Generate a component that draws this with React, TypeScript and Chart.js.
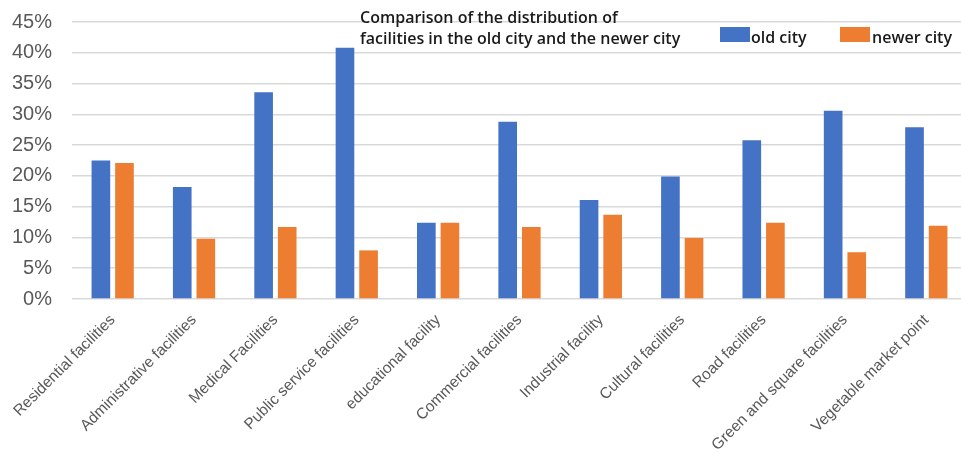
import React, { useEffect, useRef } from "react";
import { Chart, registerables } from "chart.js";

Chart.register(...registerables);

const categories = [
  "Residential facilities",
  "Administrative facilities",
  "Medical Facilities",
  "Public service facilities",
  "educational facility",
  "Commercial facilities",
  "Industrial facility",
  "Cultural facilities",
  "Road facilities",
  "Green and square facilities",
  "Vegetable market point",
];

const oldCity = [22.5, 18.2, 33.6, 40.8, 12.4, 28.8, 16.1, 19.9, 25.8, 30.6, 27.9];
const newerCity = [22.1, 9.8, 11.7, 7.9, 12.4, 11.7, 13.7, 9.9, 12.4, 7.6, 11.9];

const seriesNames = ["old city", "newer city"];
const titleLines = [
  "Comparison of the distribution of",
  "facilities in the old city and the newer city",
];
const yMax = 45;
const yStep = 5;

const SHIFT = 10;

const overlayPlugin = {
  id: "overlay",
  afterDraw(chart: any) {
    const ctx = chart.ctx;
    ctx.save();
    ctx.fillStyle = "#1a1a1a";
    ctx.font = "600 16px 'Open Sans', 'Noto Sans', sans-serif";
    ctx.textBaseline = "alphabetic";
    ctx.textAlign = "left";
    ctx.fillText(titleLines[0], 360, 23 + SHIFT);
    ctx.fillText(titleLines[1], 360, 44 + SHIFT);
    const ds = chart.data.datasets;
    const items = [
      { x: 720, tx: 751, ds: ds[0] },
      { x: 840, tx: 872, ds: ds[1] },
    ];
    for (const it of items) {
      ctx.fillStyle = it.ds.backgroundColor;
      ctx.fillRect(it.x, 27 + SHIFT, 30, 15);
      ctx.fillStyle = "#1a1a1a";
      ctx.font = "600 16px 'Open Sans', 'Noto Sans', sans-serif";
      ctx.fillText(it.ds.label, it.tx, 43 + SHIFT);
    }
    ctx.restore();
  },
};

export default function App() {
  const ref = useRef<HTMLCanvasElement | null>(null);
  useEffect(() => {
    if (!ref.current) return;
    const chart = new Chart(ref.current, {
      type: "bar",
      data: {
        labels: categories,
        datasets: [
          {
            label: seriesNames[0],
            data: oldCity,
            backgroundColor: "#4472C4",
            categoryPercentage: 0.58,
            barPercentage: 0.79,
          },
          {
            label: seriesNames[1],
            data: newerCity,
            backgroundColor: "#ED7D31",
            categoryPercentage: 0.58,
            barPercentage: 0.79,
          },
        ],
      },
      options: {
        animation: false,
        responsive: true,
        maintainAspectRatio: false,
        layout: { padding: { top: 0, right: 1, left: 0, bottom: 0 } },
        plugins: {
          legend: { display: false },
          title: { display: false },
          tooltip: { enabled: false },
        },
        scales: {
          x: {
            grid: { display: false },
            border: { display: false },
            ticks: {
              autoSkip: false,
              maxRotation: 45,
              minRotation: 45,
              color: "#595959",
              padding: 4,
              font: { size: 15.5, family: "'Liberation Sans', Arial, sans-serif" },
            },
            afterFit: (s: any) => {
              s.height = 157;
            },
          },
          y: {
            min: 0,
            max: yMax,
            grid: { color: "#d9d9d9", lineWidth: 1.5, drawTicks: false },
            border: { display: false },
            ticks: {
              stepSize: yStep,
              padding: 20,
              color: "#595959",
              font: { size: 20, family: "'Liberation Sans', Arial, sans-serif" },
              callback: (v: any) => v + "%",
            },
            afterFit: (s: any) => {
              s.width = 72;
            },
          },
        },
      },
      plugins: [overlayPlugin],
    });
    return () => chart.destroy();
  }, []);
  return (
    <div style={{ position: "fixed", left: 0, top: -SHIFT, width: 968, height: 456 + SHIFT }}>
      <canvas ref={ref} />
    </div>
  );
}
